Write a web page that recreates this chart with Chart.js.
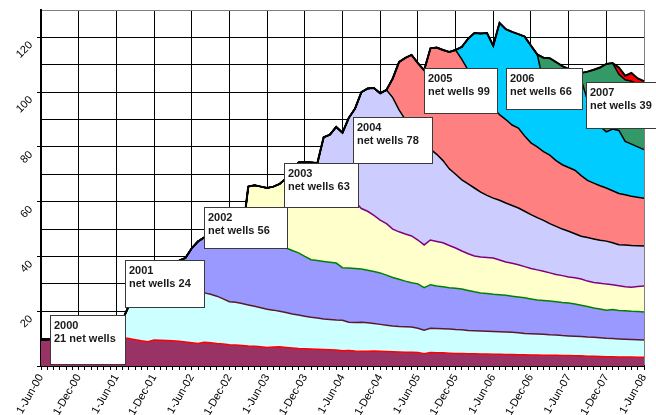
<!DOCTYPE html>
<html>
<head>
<meta charset="utf-8">
<script src="https://cdn.jsdelivr.net/npm/chart.js@4.4.1/dist/chart.umd.min.js"></script>
<style>
    html, body { margin: 0; padding: 0; background: #fff; }
    canvas { display: block; }
</style>
</head>
<body>
<canvas id="chart" width="656" height="415"></canvas>
<script>
const vintages = ['2000', '2001', '2002', '2003', '2004', '2005', '2006', '2007', '2008'];
// first month (0 = Jun-00) each vintage shows up in
const starts = [0, 12, 18, 32, 44, 55, 66, 79, 91];

// running totals: each series is the top edge of its band
const total2000 = [9.5, 9.7, 9.9, 10.0, 10.1, 10.2, 10.3, 10.3, 10.4, 10.5, 10.5, 10.6, 10.6,
    10.3, 10.0, 9.6, 9.2, 8.9, 9.5, 9.4, 9.3, 9.2, 9.0, 8.8, 8.5,
    8.2, 8.7, 8.5, 8.2, 8.0, 7.8, 7.7, 7.5, 7.3, 7.2, 7.0, 6.8,
    6.9, 7.0, 6.8, 6.6, 6.4, 6.3, 6.2, 6.1, 6.0, 5.9, 5.8, 5.6,
    5.7, 5.5, 5.4, 5.4, 5.5, 5.4, 5.3, 5.2, 5.1, 5.0, 5.0, 4.9,
    4.5, 4.9, 4.8, 4.8, 4.7, 4.6, 4.6, 4.5, 4.5, 4.4, 4.4, 4.3,
    4.3, 4.2, 4.2, 4.1, 4.1, 4.0, 4.0, 3.9, 3.9, 3.9, 3.8, 3.8,
    3.7, 3.7, 3.6, 3.6, 3.5, 3.4, 3.4, 3.3, 3.3, 3.3, 3.2, 3.2];
const total2001 = [10.6, 17, 22, 24, 25.5, 26.5, 27.5, 28, 28, 28.2, 28, 27.8, 27.5,
    27, 26.7, 26.2, 25.5, 24.5, 23.5, 23.3, 22.8, 22.3, 21.8, 21.3, 20.7,
    20.4, 20.0, 19.5, 19.0, 18.6, 18.2, 17.8, 17.5, 17.2, 17.0, 16.8, 16.7,
    16.0, 15.9, 16.0, 15.8, 15.5, 15.2, 14.9, 14.6, 14.4, 14.3, 14.2, 13.8,
    13.1, 13.8, 13.7, 13.6, 13.5, 13.3, 13.2, 13.0, 12.9, 12.8, 12.7, 12.6,
    12.5, 12.4, 12.3, 12.1, 11.9, 11.8, 11.7, 11.6, 11.4, 11.3, 11.1, 11.0,
    10.9, 10.8, 10.6, 10.5, 10.3, 10.1, 10.0, 9.9, 9.8, 9.7, 9.6, 9.5];
const total2002 = [27.5, 31, 34, 36.5, 38.5, 39.5, 43,
    45.5, 47, 48, 48.5, 48.5, 48, 47.5, 47, 46.5, 46, 45.5, 45,
    44.5, 44, 43.1, 42.2, 41.3, 40, 38.8, 38.5, 38.2, 37.9, 37.6, 35.9,
    35.8, 35.6, 35.4, 35.0, 34.5, 34.0, 33.2, 32.3, 31.7, 31.0, 30.4, 30.0,
    28.6, 29.7, 29.2, 28.9, 28.6, 28.4, 28.1, 27.6, 27.1, 26.7, 26.5, 26.2,
    26.0, 25.8, 25.5, 25.2, 24.9, 24.5, 24.1, 23.9, 23.7, 23.5, 23.2, 23.0,
    22.6, 22.2, 21.7, 21.2, 20.8, 20.4, 20.6, 20.3, 20.2, 20.0, 19.9, 19.7];
const total2003 = [47, 65.5, 66, 65.5, 65,
    65.5, 66.5, 68.5, 71.5, 74.3, 74.5, 74.3, 74.1, 72, 70, 68, 66,
    63, 60, 57.5, 56.5, 55, 53.3, 52, 50, 49, 48.2, 47.5, 46,
    44.2, 46, 45.5, 45, 44, 43.1, 42, 41, 40.2, 39.8, 39.6, 39.4,
    38.7, 38, 37.5, 37, 36.3, 35.6, 35.1, 34.6, 34, 33.4, 33, 32.5,
    32.2, 31.8, 31, 30.5, 30.2, 29.9, 29.7, 29.3, 28.9, 28.8, 29.0, 29.2];
const total2004 = [74.1, 83.5, 84.5, 87.3, 85.2,
    90.6, 94, 100, 101.3, 101.5, 99.6, 100.8, 98, 93.5, 90, 87, 84,
    81.5, 79.2, 77.3, 75, 72, 70, 68, 66.5, 65, 63.5, 62.3, 61.3,
    60.5, 59.5, 58.6, 57.7, 56.5, 55.3, 54.2, 53.2, 52, 51, 50, 49.2,
    48.3, 47.4, 46.9, 46.4, 45.9, 45.6, 45, 44.3, 44.2, 44, 43.9, 43.8];
const total2005 = [100.8, 105, 111, 112.5, 113.6, 110.6,
    108, 116, 116.3, 115.4, 114.7, 115.4, 112, 108, 104, 100, 97, 94,
    91.8, 90, 88, 86.9, 84, 81.5, 80, 78.3, 77, 75, 73.5, 72.5,
    71.5, 69.5, 67.8, 66.8, 65.8, 65, 64, 63, 62.5, 62, 61.6, 61.3];
const total2006 = [115.4, 116.5, 119.5, 121.6, 121.4, 121.6, 117,
    125.3, 123, 122, 121.2, 120.3, 117, 113.8, 103.5, 103.5, 104, 104, 104.5,
    104.8, 104.6, 97, 90, 87.5, 85.5, 86.5, 86, 82, 81, 80, 79];
const total2007 = [113.8, 112.6, 112.4, 111, 109.5, 108.5, 108, 107, 107.5,
    108.2, 109, 110.3, 110.6, 106.5, 104.5, 104, 103, 102];
const total2008 = [110.6, 109, 106, 107, 105, 104];

const series = [total2000, total2001, total2002, total2003, total2004, total2005, total2006, total2007, total2008];

const noteTitles = ['2000', '2001', '2002', '2003', '2004', '2005', '2006', '2007'];
const noteTexts = ['21 net wells', 'net wells 24', 'net wells 56', 'net wells 63',
    'net wells 78', 'net wells 99', 'net wells 66', 'net wells 39'];
// [first month, last month, top value, bottom value] of each note box
const noteBoxes = [
    [1.4, 13.4, 18.6, 0.7],
    [13.4, 26.0, 38.7, 21.5],
    [26.0, 39.2, 58.1, 43.1],
    [38.7, 50.5, 74.1, 58.1],
    [49.7, 62.3, 90.9, 74.1],
    [61.0, 72.6, 108.8, 92.4],
    [74.0, 86.1, 108.8, 93.8],
    [86.8, 97.9, 103.7, 86.9]
];

const fillColors = ['#993366', '#CCFFFF', '#9999FF', '#FFFFCC', '#CCCCFF', '#FF8080', '#00CCFF', '#339966', '#FF0000'];
const lineColors = ['#FF0000', '#5a1a2e', '#008000', '#800080', '#000000', '#000000', '#000000', '#000000', '#000000'];

const monthNames = ['Jan', 'Feb', 'Mar', 'Apr', 'May', 'Jun', 'Jul', 'Aug', 'Sep', 'Oct', 'Nov', 'Dec'];
const months = [];
for (let i = 0; i <= 96; i++) {
    const d = new Date(2000, 5 + i, 1);
    months.push('1-' + monthNames[d.getMonth()] + '-' + String(d.getFullYear()).slice(2));
}

let below = null;
const datasets = series.map((vals, i) => {
    const full = months.map((_, m) => m < starts[i] ? below[m] : vals[m - starts[i]]);
    below = full;
    return {
        label: vintages[i],
        data: full,
        backgroundColor: fillColors[i],
        borderColor: lineColors[i],
        borderWidth: i === series.length - 1 ? 2 : 1.5,
        fill: i === 0 ? 'origin' : '-1',
        pointRadius: 0,
        tension: 0,
        order: series.length - i
    };
});

const notesPlugin = {
    id: 'notes',
    afterDraw(chart) {
        const { ctx } = chart;
        const x = chart.scales.x;
        const y = chart.scales.y;
        ctx.save();
        ctx.font = 'bold 11px "Liberation Sans", Arial, sans-serif';
        ctx.textBaseline = 'alphabetic';
        noteBoxes.forEach(([m0, m1, v0, v1], i) => {
            const left = Math.round(x.getPixelForValue(m0)) + 0.5;
            const right = Math.round(x.getPixelForValue(m1)) + 0.5;
            const top = Math.round(y.getPixelForValue(v0)) + 0.5;
            const bottom = Math.round(y.getPixelForValue(v1)) + 0.5;
            ctx.fillStyle = '#fff';
            ctx.fillRect(left, top, right - left, bottom - top);
            ctx.strokeStyle = '#3a3a3a';
            ctx.lineWidth = 1;
            ctx.strokeRect(left, top, right - left, bottom - top);
            ctx.fillStyle = '#1a1a1a';
            ctx.fillText(noteTitles[i], left + 3.5, top + 13);
            ctx.fillText(noteTexts[i], left + 3.5, top + 26);
        });
        ctx.restore();
    }
};

Chart.defaults.font.family = '"Liberation Sans", Arial, sans-serif';
Chart.defaults.font.size = 11;
Chart.defaults.color = '#000';

new Chart(document.getElementById('chart').getContext('2d'), {
    type: 'line',
    data: { labels: months, datasets: datasets },
    options: {
        responsive: false,
        animation: false,
        layout: { padding: { top: 10, right: 12, left: 0, bottom: 0 } },
        plugins: {
            legend: { display: false },
            tooltip: { enabled: false },
            filler: { drawTime: 'beforeDatasetsDraw' }
        },
        scales: {
            x: {
                ticks: {
                    autoSkip: false,
                    minRotation: 60,
                    maxRotation: 60,
                    padding: 2,
                    callback: (val, i) => i % 6 === 0 ? months[i] : ''
                },
                grid: {
                    color: ctx => ctx.index % 6 === 0 ? (ctx.index === 96 ? '#808080' : '#000') : 'rgba(0,0,0,0)',
                    tickColor: '#000',
                    tickLength: 4
                },
                border: { color: '#000', width: 2 },
                afterFit: scale => {
                    scale.height = 49;
                    scale.paddingLeft = 0;
                    scale.paddingRight = 0;
                }
            },
            y: {
                min: 0,
                max: 130,
                ticks: {
                    stepSize: 10,
                    autoSkip: false,
                    minRotation: 45,
                    maxRotation: 45,
                    padding: 6,
                    labelOffset: 6,
                    callback: v => v > 0 && v % 20 === 0 ? v : ''
                },
                grid: {
                    color: ctx => ctx.tick && ctx.tick.value === 130 ? '#808080' : '#000',
                    tickColor: ctx => ctx.tick && ctx.tick.value % 20 === 0 ? '#000' : 'rgba(0,0,0,0)',
                    tickLength: 4
                },
                border: { color: '#000', width: 2 },
                afterFit: scale => {
                    scale.width = 41;
                    scale.paddingTop = 0;
                    scale.paddingBottom = 0;
                }
            }
        }
    },
    plugins: [notesPlugin]
});
</script>
</body>
</html>
